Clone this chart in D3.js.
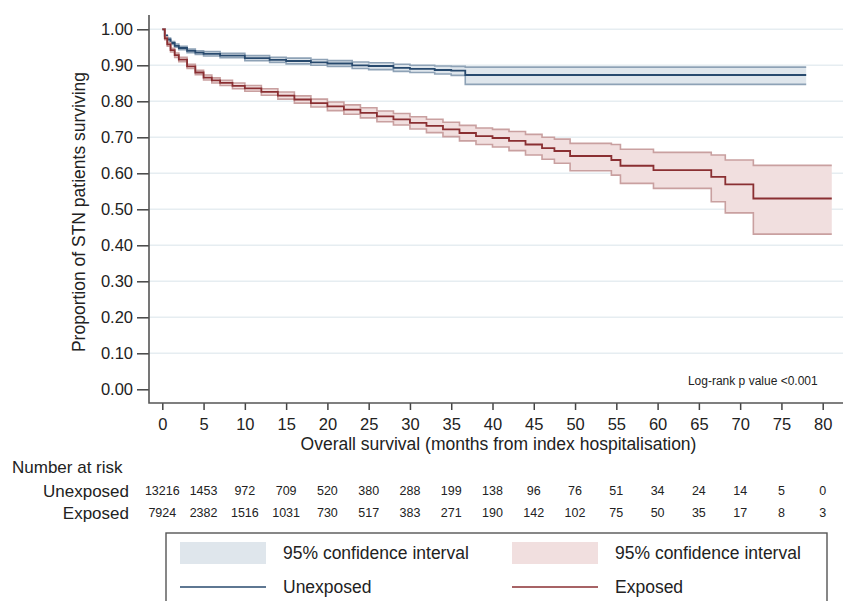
<!DOCTYPE html>
<html>
<head>
<meta charset="utf-8">
<script src="https://cdn.jsdelivr.net/npm/d3@7"></script>
<style>
	body { margin: 0; background: #fff; }
	text { font-family: "Liberation Sans", Arial, sans-serif; fill: #222; }
	.narrow { font-family: "Liberation Sans Narrow", "Liberation Sans", Arial, sans-serif; }
</style>
</head>
<body>
<script>
// tick labels
const xTicks = d3.range(0, 81, 5);
const yTicks = [0, 0.1, 0.2, 0.3, 0.4, 0.5, 0.6, 0.7, 0.8, 0.9, 1.0];

// Kaplan-Meier estimates (months, proportion)
const unexpTime = [0, 0.3, 0.6, 1, 1.5, 2, 3, 4, 5, 7, 10, 13, 15, 18, 20, 23, 25, 28, 30, 33, 35, 36.7, 78];
const unexpSurv = [1.0, 0.982, 0.972, 0.962, 0.954, 0.948, 0.940, 0.935, 0.932, 0.927, 0.920, 0.915, 0.912, 0.908, 0.905, 0.900, 0.898, 0.893, 0.890, 0.887, 0.885, 0.873, 0.873];
const unexpLo = [1.0, 0.979, 0.968, 0.958, 0.950, 0.943, 0.935, 0.930, 0.926, 0.921, 0.913, 0.908, 0.904, 0.900, 0.897, 0.891, 0.888, 0.883, 0.880, 0.876, 0.872, 0.847, 0.847];
const unexpHi = [1.0, 0.985, 0.976, 0.966, 0.959, 0.953, 0.945, 0.940, 0.938, 0.933, 0.927, 0.922, 0.920, 0.916, 0.913, 0.909, 0.907, 0.903, 0.900, 0.898, 0.897, 0.895, 0.895];

const expTime = [0, 0.3, 0.6, 1, 1.5, 2, 3, 4, 5, 6, 7, 8.5, 10, 12, 14, 16, 18, 20, 22, 24, 26, 28, 30, 32, 34, 36, 38, 40, 42, 44, 46, 47.5, 49.4, 54.4, 55.5, 59.5, 66.5, 68.2, 71.6, 81.1];
const expSurv = [1.0, 0.975, 0.958, 0.942, 0.928, 0.916, 0.897, 0.880, 0.866, 0.858, 0.851, 0.843, 0.836, 0.826, 0.816, 0.805, 0.795, 0.786, 0.777, 0.768, 0.758, 0.750, 0.740, 0.732, 0.722, 0.712, 0.703, 0.698, 0.690, 0.680, 0.670, 0.662, 0.648, 0.637, 0.621, 0.609, 0.590, 0.569, 0.530, 0.530];
const expLo = [1.0, 0.971, 0.953, 0.937, 0.922, 0.910, 0.891, 0.874, 0.859, 0.851, 0.844, 0.835, 0.828, 0.817, 0.806, 0.795, 0.784, 0.774, 0.764, 0.754, 0.743, 0.734, 0.723, 0.713, 0.702, 0.690, 0.680, 0.673, 0.663, 0.651, 0.639, 0.628, 0.607, 0.595, 0.572, 0.558, 0.521, 0.490, 0.431, 0.431];
const expHi = [1.0, 0.979, 0.963, 0.947, 0.934, 0.922, 0.903, 0.886, 0.873, 0.865, 0.858, 0.851, 0.844, 0.835, 0.826, 0.815, 0.806, 0.798, 0.790, 0.782, 0.773, 0.766, 0.757, 0.750, 0.742, 0.733, 0.726, 0.722, 0.716, 0.708, 0.700, 0.695, 0.683, 0.680, 0.667, 0.658, 0.651, 0.637, 0.622, 0.622];

// number at risk table
const riskGroups = ["Unexposed", "Exposed"];
const riskUnexposed = [13216, 1453, 972, 709, 520, 380, 288, 199, 138, 96, 76, 51, 34, 24, 14, 5, 0];
const riskExposed = [7924, 2382, 1516, 1031, 730, 517, 383, 271, 190, 142, 102, 75, 50, 35, 17, 8, 3];

const W = 844, H = 601;
const svg = d3.select("body").append("svg").attr("width", W).attr("height", H);

const x = d3.scaleLinear().domain([0, 80]).range([162.3, 822.7]);
const y = d3.scaleLinear().domain([0, 1]).range([389.3, 29.3]);
const axisX = 149, axisY = 403, plotRight = 843, plotTop = 15;

//gridlines
svg.append("g").selectAll("line")
	.data(yTicks.filter(d => d > 0))
	.enter().append("line")
	.attr("x1", axisX).attr("x2", plotRight)
	.attr("y1", d => y(d)).attr("y2", d => y(d))
	.attr("stroke", "#e6edf1").attr("stroke-width", 1.5);

//curves
function drawGroup(time, surv, lo, hi, fill, edge, line) {
	let pts = time.map((t, i) => ({t: t, s: surv[i], lo: lo[i], hi: hi[i]}));
	let g = svg.append("g");
	g.append("path").datum(pts)
		.attr("d", d3.area().curve(d3.curveStepAfter).x(d => x(d.t)).y0(d => y(d.lo)).y1(d => y(d.hi)))
		.attr("fill", fill);
	for (let k of ["lo", "hi"]) {
		g.append("path").datum(pts)
			.attr("d", d3.line().curve(d3.curveStepAfter).x(d => x(d.t)).y(d => y(d[k])))
			.attr("fill", "none").attr("stroke", edge).attr("stroke-width", 1.6);
	}
	g.append("path").datum(pts)
		.attr("d", d3.line().curve(d3.curveStepAfter).x(d => x(d.t)).y(d => y(d.s)))
		.attr("fill", "none").attr("stroke", line).attr("stroke-width", 1.8);
}
drawGroup(unexpTime, unexpSurv, unexpLo, unexpHi, "#dfe6ec", "#8ea2b6", "#284a6e");
drawGroup(expTime, expSurv, expLo, expHi, "#f1dfdf", "#c9a0a0", "#8a2f32");

//axes
let yAxis = svg.append("g").attr("transform", `translate(${axisX},0)`)
	.call(d3.axisLeft(y).tickValues(yTicks).tickFormat(d3.format(".2f")).tickSize(12).tickPadding(4));
yAxis.select(".domain").remove();
yAxis.selectAll("line").attr("stroke", "#444").attr("stroke-width", 1.5);
yAxis.selectAll("text").style("font-size", "16.5px").attr("fill", "#222");

let xAxis = svg.append("g").attr("transform", `translate(0,${axisY})`)
	.call(d3.axisBottom(x).tickValues(xTicks).tickSize(7).tickPadding(5));
xAxis.select(".domain").remove();
xAxis.selectAll("line").attr("stroke", "#444").attr("stroke-width", 1.5);
xAxis.selectAll("text").attr("y", 27).attr("dy", null).style("font-size", "16.5px").attr("fill", "#222");

svg.append("path")
	.attr("d", `M${axisX},${plotTop}V${axisY}H${plotRight}`)
	.attr("fill", "none").attr("stroke", "#555").attr("stroke-width", 1.6);

//titles
svg.append("text")
	.attr("transform", `translate(85,${(plotTop + axisY) / 2 + 3}) rotate(-90)`)
	.attr("text-anchor", "middle").style("font-size", "17.5px")
	.text("Proportion of STN patients surviving");
svg.append("text")
	.attr("x", (x(0) + x(80)) / 2 + 6).attr("y", 450)
	.attr("text-anchor", "middle").style("font-size", "17.5px")
	.text("Overall survival (months from index hospitalisation)");
svg.append("text")
	.attr("x", x(80) - 5).attr("y", 385)
	.attr("text-anchor", "end").style("font-size", "12px")
	.text("Log-rank p value <0.001");

//number at risk
svg.append("text").attr("x", 12).attr("y", 473).style("font-size", "17px").text("Number at risk");
let riskRows = [riskUnexposed, riskExposed];
riskRows.forEach((row, r) => {
	let yy = 497 + r * 22;
	svg.append("text").attr("x", 129).attr("y", yy).attr("text-anchor", "end")
		.style("font-size", "17px").text(riskGroups[r]);
	svg.append("g").selectAll("text")
		.data(row)
		.enter().append("text")
		.classed("narrow", true)
		.attr("x", (d, i) => x(xTicks[i]))
		.attr("y", yy - 2)
		.attr("text-anchor", "middle")
		.style("font-size", "12.5px")
		.text(d => d);
});

//legend
svg.append("rect").attr("x", 166).attr("y", 533).attr("width", 661).attr("height", 80)
	.attr("fill", "#fff").attr("stroke", "#555").attr("stroke-width", 1.4);
let legendItems = [
	{col: 0, row: 0, type: "fill", color: "#dfe6ec", label: "95% confidence interval"},
	{col: 1, row: 0, type: "fill", color: "#f1dfdf", label: "95% confidence interval"},
	{col: 0, row: 1, type: "line", color: "#284a6e", label: "Unexposed"},
	{col: 1, row: 1, type: "line", color: "#8a2f32", label: "Exposed"}
];
let legX = [180, 512];
legendItems.forEach(d => {
	let lx = legX[d.col], ly = 553 + d.row * 34;
	if (d.type == "fill") {
		svg.append("rect").attr("x", lx).attr("y", ly - 11).attr("width", 86).attr("height", 22).attr("fill", d.color);
	} else {
		svg.append("line").attr("x1", lx).attr("x2", lx + 86).attr("y1", ly).attr("y2", ly)
			.attr("stroke", d.color).attr("stroke-width", 1.6);
	}
	svg.append("text").attr("x", lx + 103).attr("y", ly + 6).style("font-size", "17.5px").text(d.label);
});
</script>
</body>
</html>
